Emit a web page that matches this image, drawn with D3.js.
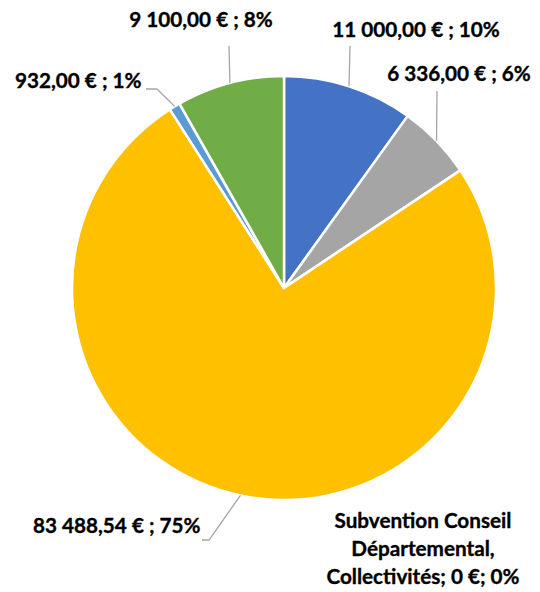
<!DOCTYPE html>
<html>
<head>
<meta charset="utf-8">
<script src="https://cdn.jsdelivr.net/npm/d3@7"></script>
<style>
	body { margin: 0; background: #fff; }
	text { font-family: Lato, "Open Sans", sans-serif; font-weight: bold; fill: #000; stroke: #000; stroke-width: 0.35px; }
</style>
</head>
<body>
<div id="chart"></div>
<script>
// slices, clockwise from 12 o'clock
var names = ["Blue", "Gray", "Subvention Conseil Départemental, Collectivités", "Yellow", "LightBlue", "Green"];
var values = [11000, 6336, 0, 83488.54, 932, 9100];
var labels = ["11 000,00 € ; 10%", "6 336,00 € ; 6%", "Subvention Conseil|Départemental,|Collectivités; 0 €; 0%", "83 488,54 € ; 75%", "932,00 € ; 1%", "9 100,00 € ; 8%"];
var colors = ["#4472C4", "#A5A5A5", "#ED7D31", "#FFC000", "#5B9BD5", "#70AD47"];

// label placement (text anchor x, baseline y, leader elbow) - layout only
var labelPos = [
	{ x: 416, y: 37, anchor: "middle", line: [[350, 46]] },
	{ x: 459, y: 81, anchor: "middle", line: [[437, 91]] },
	{ x: 423, y: 528, anchor: "middle", line: null },
	{ x: 33, y: 533, anchor: "start", line: [[209, 540], [202, 540]] },
	{ x: 15, y: 88, anchor: "start", line: [[157, 89], [146, 89]] },
	{ x: 201, y: 27, anchor: "middle", line: [[229, 46]] }
];

var width = 540, height = 592;
var cx = 284, cy = 288, radius = 212;

var svg = d3.select("#chart").append("svg")
	.attr("width", width)
	.attr("height", height);

var pie = d3.pie().sort(null).value(function(d) { return d; });
var arcs = pie(values);

var arc = d3.arc().innerRadius(0).outerRadius(radius);

var g = svg.append("g")
	.attr("transform", "translate(" + cx + "," + cy + ")");

g.selectAll(".slice")
	.data(arcs)
	.enter()
	.append("path")
	.attr("class", "slice")
	.attr("d", arc)
	.style("fill", function(d, i) { return colors[i]; })
	.style("stroke", "#fff")
	.style("stroke-width", 2.5)
	.style("stroke-linejoin", "round");

// leader lines from arc edge at mid angle
var lineGen = d3.line();
arcs.forEach(function(d, i)
{
	var p = labelPos[i];
	if(!p.line || d.value == 0) return;
	var mid = (d.startAngle + d.endAngle) / 2;
	var edge = [cx + radius * Math.sin(mid), cy - radius * Math.cos(mid)];
	var pts = [edge].concat(p.line);
	svg.append("path")
		.attr("d", lineGen(pts))
		.style("fill", "none")
		.style("stroke", "#A6A6A6")
		.style("stroke-width", 1.3);
});

svg.selectAll(".lbl")
	.data(arcs)
	.enter()
	.append("text")
	.attr("class", "lbl")
	.attr("x", function(d, i) { return labelPos[i].x; })
	.attr("y", function(d, i) { return labelPos[i].y; })
	.attr("text-anchor", function(d, i) { return labelPos[i].anchor; })
	.style("font-size", "20.7px")
	.each(function(d, i)
	{
		var parts = labels[i].split("|");
		var t = d3.select(this);
		parts.forEach(function(s, k)
		{
			t.append("tspan")
				.attr("x", labelPos[i].x)
				.attr("dy", k == 0 ? 0 : 28)
				.text(s);
		});
	});
</script>
</body>
</html>
